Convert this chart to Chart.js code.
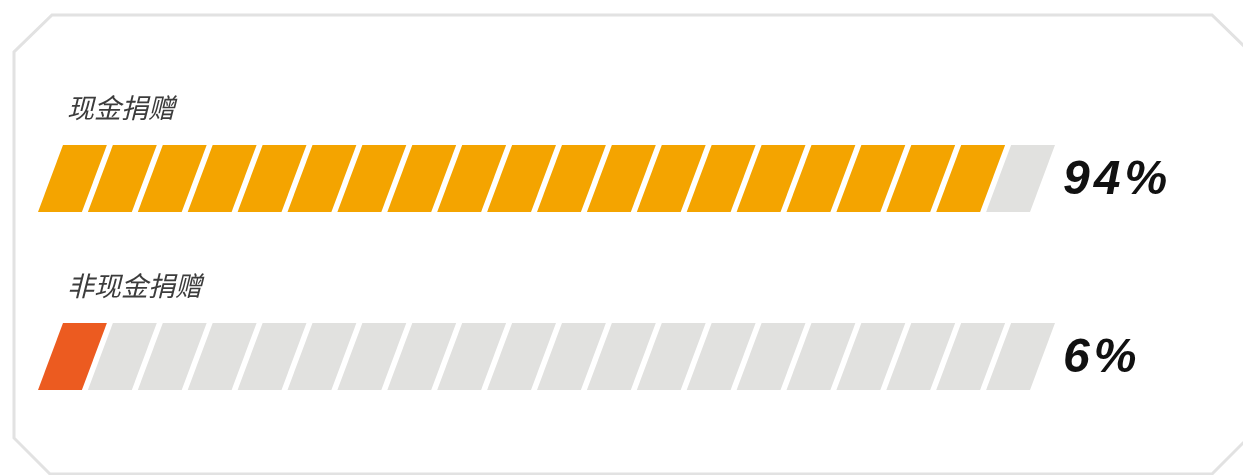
<!DOCTYPE html>
<html>
<head>
<meta charset="utf-8">
<script src="https://cdn.jsdelivr.net/npm/chart.js@4/dist/chart.umd.min.js"></script>
<style>
  html, body { margin: 0; padding: 0; background: #fff; }
  #wrap { width: 1243px; height: 475px; position: relative; }
</style>
</head>
<body>
<div id="wrap"><canvas id="grafica"></canvas></div>
<script>
// datos
const categorias = ["现金捐赠", "非现金捐赠"];
const valores = [94, 6];
const segmentos = 20;
const coloresLlenos = ["#f4a400", "#ec5b20"];
const colorVacio = "#e1e1df";

const SESGO = 25;   // inclinacion de cada segmento
const HUECO = 6;    // espacio blanco entre segmentos

// cada segmento se dibuja como paralelogramo
Chart.BarElement.prototype.draw = function (ctx) {
  const { x, y, base, height } = this.getProps(["x", "y", "base", "height"]);
  const izq = Math.min(x, base);
  const der = Math.max(x, base) - HUECO;
  const arriba = y - height / 2;
  const abajo = y + height / 2;
  ctx.save();
  ctx.fillStyle = this.options.backgroundColor;
  ctx.beginPath();
  ctx.moveTo(izq - SESGO / 2, abajo);
  ctx.lineTo(izq + SESGO / 2, arriba);
  ctx.lineTo(der + SESGO / 2, arriba);
  ctx.lineTo(der - SESGO / 2, abajo);
  ctx.closePath();
  ctx.fill();
  ctx.restore();
};

const paso = 100 / segmentos;
const datasets = [];
for (let i = 0; i < segmentos; i++) {
  datasets.push({
    data: categorias.map(() => paso),
    backgroundColor: valores.map((v, k) =>
      i < Math.round(v / paso) ? coloresLlenos[k] : colorVacio),
    barThickness: 67,
    clip: false,
    stack: "s"
  });
}

const marco = {
  id: "marco",
  beforeDraw(chart) {
    const ctx = chart.ctx;
    ctx.save();
    ctx.strokeStyle = "#e2e2e2";
    ctx.lineWidth = 3;
    ctx.beginPath();
    ctx.moveTo(52, 15);
    ctx.lineTo(1212, 15);
    ctx.lineTo(1248, 50);
    ctx.lineTo(1248, 438);
    ctx.lineTo(1212, 474);
    ctx.lineTo(50, 474);
    ctx.lineTo(14, 438);
    ctx.lineTo(14, 52);
    ctx.closePath();
    ctx.stroke();
    ctx.restore();
  }
};

const textos = {
  id: "textos",
  afterDatasetsDraw(chart) {
    const ctx = chart.ctx;
    const meta = chart.getDatasetMeta(0);
    ctx.save();
    meta.data.forEach((barra, k) => {
      const y = barra.y;
      const h = barra.height;
      ctx.textBaseline = "middle";
      ctx.textAlign = "left";
      ctx.letterSpacing = "0px";
      ctx.fillStyle = "#3c3c3c";
      ctx.font = 'italic 27px "Noto Sans CJK SC"';
      ctx.fillText(categorias[k], 67, y - h / 2 - 37);
      ctx.fillStyle = "#111";
      ctx.letterSpacing = "4px";
      ctx.font = 'italic bold 48px "Liberation Sans"';
      ctx.fillText(valores[k] + "%", 1063, y + 2);
    });
    ctx.restore();
  }
};

new Chart(document.getElementById("grafica"), {
  type: "bar",
  data: { labels: categorias, datasets: datasets },
  options: {
    indexAxis: "y",
    responsive: true,
    maintainAspectRatio: false,
    animation: false,
    layout: { padding: { left: 50.5, right: 194.5, top: 89.5, bottom: 29.5 } },
    scales: {
      x: { display: false, stacked: true, min: 0, max: 100 },
      y: { display: false, stacked: true }
    },
    plugins: { legend: { display: false }, tooltip: { enabled: false } }
  },
  plugins: [marco, textos]
});
</script>
</body>
</html>
